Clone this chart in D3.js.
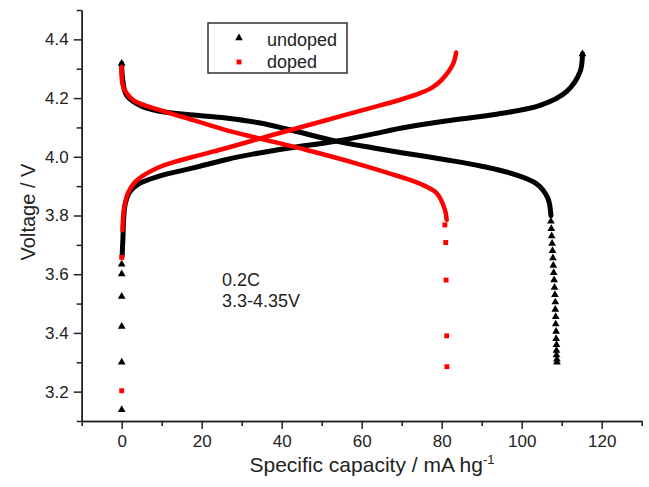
<!DOCTYPE html>
<html>
<head>
<meta charset="utf-8">
<script src="https://cdn.jsdelivr.net/npm/d3@7/dist/d3.min.js"></script>
<style>
  body { margin: 0; background: #fff; }
  svg { font-family: "Liberation Sans", Arial, sans-serif; }
</style>
</head>
<body>
<svg id="chart" width="649" height="487"></svg>
<script>
// capacity (mA h/g) and voltage (V)
// undoped, charge: the few loose points at 0 then the dense curve
let undopedChargeStartV = [3.138, 3.30, 3.422, 3.524, 3.601, 3.634];
let undopedChargeCap = [0.1, 0.3, 0.5, 0.9, 2.0, 4.6, 9.6, 17.9, 26, 34, 42, 53, 63, 70, 81, 93.7, 104.6, 111.2, 114.6, 115.2];
let undopedChargeV   = [3.66, 3.72, 3.79, 3.84, 3.88, 3.91, 3.935, 3.962, 3.99, 4.012, 4.03, 4.052, 4.078, 4.098, 4.122, 4.145, 4.175, 4.222, 4.29, 4.35];
// undoped, discharge
let undopedDisCap = [0, 0.2, 1.2, 5, 9.6, 17.9, 26, 34.6, 42, 53, 63, 70, 81, 90, 97.8, 103.7, 106.5, 107.3];
let undopedDisV   = [4.318, 4.27, 4.21, 4.172, 4.155, 4.142, 4.132, 4.115, 4.092, 4.055, 4.03, 4.014, 3.99, 3.968, 3.942, 3.908, 3.86, 3.80];
let undopedTailCap = [107.3, 107.4, 107.5, 107.6, 107.7, 107.8, 107.9, 108.0, 108.1, 108.2, 108.3, 108.4, 108.4, 108.5, 108.5, 108.6, 108.6, 108.7, 108.7, 108.7, 108.8, 108.8];
let undopedTailV   = [3.78, 3.755, 3.73, 3.705, 3.68, 3.655, 3.63, 3.605, 3.58, 3.555, 3.53, 3.505, 3.48, 3.455, 3.43, 3.405, 3.38, 3.36, 3.34, 3.325, 3.31, 3.30];

// doped, charge
let dopedChargeStartV = [3.203, 3.657];
let dopedChargeCap = [0.2, 0.4, 0.8, 1.7, 3.8, 9.6, 17.9, 26.25, 37.9, 50.4, 64.6, 70, 74.6, 77.5, 80, 82.8, 83.6];
let dopedChargeV   = [3.75, 3.80, 3.84, 3.88, 3.92, 3.966, 4.0, 4.03, 4.075, 4.122, 4.175, 4.196, 4.217, 4.235, 4.262, 4.315, 4.355];
// doped, discharge
let dopedDisCap = [0, 0.4, 2.9, 9.6, 17.9, 26.25, 34.6, 46.25, 58.75, 69.6, 74.6, 78.75, 80.8, 81.25];
let dopedDisV   = [4.306, 4.238, 4.193, 4.159, 4.125, 4.09, 4.062, 4.023, 3.977, 3.932, 3.908, 3.876, 3.82, 3.785];
let dopedTailCap = [80.8, 81.0, 81.1, 81.25, 81.3];
let dopedTailV   = [3.768, 3.708, 3.58, 3.39, 3.285];

let xTicks = [0, 20, 40, 60, 80, 100, 120];
let xMinor = [-10, 10, 30, 50, 70, 90, 110, 130];
let yTicks = [3.2, 3.4, 3.6, 3.8, 4.0, 4.2, 4.4];
let yMinor = [3.1, 3.3, 3.5, 3.7, 3.9, 4.1, 4.3, 4.5];

let svg = d3.select('#chart');
let margin = { top: 10, right: 7.3, bottom: 66, left: 81.7 };
let width = 649 - margin.left - margin.right;
let height = 487 - margin.top - margin.bottom;

let x = d3.scaleLinear().domain([-10, 130]).range([0, width]);
let y = d3.scaleLinear().domain([3.1, 4.5]).range([height, 0]);

let g = svg.append("g").attr("transform", "translate(" + margin.left + "," + margin.top + ")");

let zip = (xs, ys) => xs.map((c, i) => [c, ys[i]]);
let line = d3.line().x(d => x(d[0])).y(d => y(d[1])).curve(d3.curveCatmullRom);

// axes
let axisColor = "#222";
function styleAxis(sel) {
    sel.selectAll("path, line").attr("stroke", axisColor).attr("stroke-width", 1.5);
    sel.selectAll("text").attr("fill", "#222").attr("font-size", 17);
}
g.append("g")
    .attr("transform", "translate(0," + height + ")")
    .call(d3.axisBottom(x).tickValues(xMinor).tickSize(5).tickSizeOuter(0).tickFormat(""))
    .call(styleAxis);
g.append("g")
    .attr("transform", "translate(0," + height + ")")
    .call(d3.axisBottom(x).tickValues(xTicks).tickSize(8).tickSizeOuter(0).tickPadding(6))
    .call(styleAxis);
g.append("g")
    .call(d3.axisLeft(y).tickValues(yMinor).tickSize(5).tickSizeOuter(0).tickFormat(""))
    .call(styleAxis);
g.append("g")
    .call(d3.axisLeft(y).tickValues(yTicks).tickSize(8).tickSizeOuter(0).tickPadding(5).tickFormat(d3.format(".1f")))
    .call(styleAxis);

// undoped (black) first, doped (red) on top
let tri = d3.symbol().type(d3.symbolTriangle).size(26);
let sq = d3.symbol().type(d3.symbolSquare).size(24);

function drawSeries(color, width, curves, dots, symbol) {
    curves.forEach(c => {
        g.append("path")
            .attr("d", line(c))
            .attr("fill", "none")
            .attr("stroke", color)
            .attr("stroke-width", width)
            .attr("stroke-linecap", "round")
            .attr("stroke-linejoin", "round");
    });
    g.append("g").selectAll("path")
        .data(dots)
        .enter().append("path")
        .attr("transform", d => "translate(" + x(d[0]) + "," + y(d[1]) + ")")
        .attr("d", symbol)
        .attr("fill", color);
}

drawSeries("#000", 5,
    [zip(undopedChargeCap, undopedChargeV), zip(undopedDisCap, undopedDisV)],
    zip(undopedChargeStartV.map(() => 0), undopedChargeStartV)
        .concat(zip(undopedTailCap, undopedTailV))
        .concat([[0, 4.318], [115.2, 4.35]]),
    tri);
drawSeries("#ff0000", 4.5,
    [zip(dopedChargeCap, dopedChargeV), zip(dopedDisCap, dopedDisV)],
    zip(dopedChargeStartV.map(() => 0), dopedChargeStartV)
        .concat(zip(dopedTailCap, dopedTailV)),
    sq);

// axis titles
svg.append("text")
    .attr("x", 372).attr("y", 472)
    .attr("text-anchor", "middle")
    .attr("font-size", 21)
    .attr("fill", "#222")
    .text("Specific capacity / mA hg")
    .append("tspan")
    .attr("dy", -8).attr("font-size", 13)
    .text("-1");
svg.append("text")
    .attr("transform", "translate(35,212) rotate(-90)")
    .attr("text-anchor", "middle")
    .attr("font-size", 20)
    .attr("fill", "#222")
    .text("Voltage / V");

// annotation
svg.append("text").attr("x", 222).attr("y", 286).attr("font-size", 18).attr("fill", "#222").text("0.2C");
svg.append("text").attr("x", 222).attr("y", 307).attr("font-size", 18).attr("fill", "#222").text("3.3-4.35V");

// legend
let legend = svg.append("g");
legend.append("rect")
    .attr("x", 208).attr("y", 23).attr("width", 139).attr("height", 50)
    .attr("fill", "#fff").attr("stroke", "#333").attr("stroke-width", 1.5);
legend.append("path").attr("transform", "translate(239,38)").attr("d", tri).attr("fill", "#000");
legend.append("path").attr("transform", "translate(239,62)").attr("d", sq).attr("fill", "#ff0000");
legend.append("text").attr("x", 267).attr("y", 46).attr("font-size", 18).attr("fill", "#222").text("undoped");
legend.append("text").attr("x", 267).attr("y", 68).attr("font-size", 18).attr("fill", "#222").text("doped");
</script>
</body>
</html>
